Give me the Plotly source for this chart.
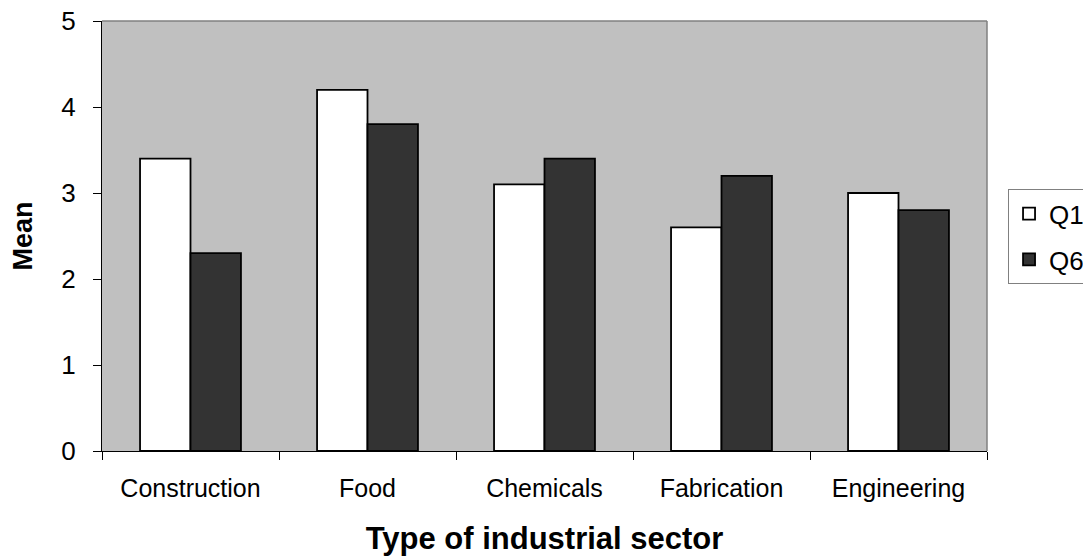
import plotly.graph_objects as go

categories = ["Construction", "Food", "Chemicals", "Fabrication", "Engineering"]
q1_values = [3.4, 4.2, 3.1, 2.6, 3.0]
q6_values = [2.3, 3.8, 3.4, 3.2, 2.8]
series_names = ["Q1", "Q6"]
y_ticks = [0, 1, 2, 3, 4, 5]

FONT = "Liberation Sans, Arial, sans-serif"

fig = go.Figure()
fig.add_trace(go.Bar(x=categories, y=q1_values, name=series_names[0], legendgroup="g1",
                     marker=dict(color="#FFFFFF", line=dict(color="#000000", width=1.8))))
fig.add_trace(go.Bar(x=categories, y=q6_values, name=series_names[1], legendgroup="g2",
                     marker=dict(color="#333333", line=dict(color="#000000", width=1.8))))

fig.update_layout(
    width=1083, height=549,
    margin=dict(l=94, r=104, t=13, b=106),
    paper_bgcolor="#FFFFFF",
    plot_bgcolor="#C0C0C0",
    barmode="group",
    bargap=0.43,
    bargroupgap=0,
    font=dict(family=FONT, size=25, color="#000000"),
    showlegend=True,
    legend=dict(xref="container", yref="container",
                x=0.9234, y=0.67, xanchor="left", yanchor="top",
                bgcolor="#FFFFFF", bordercolor="#808080", borderwidth=1,
                font=dict(family=FONT, size=26, color="#000000"),
                traceorder="grouped", tracegroupgap=9),
    xaxis=dict(
        type="category",
        automargin=False,
        tickson="boundaries",
        ticks="outside", ticklen=8, tickwidth=1, tickcolor="#000000",
        showline=True, linecolor="#000000", linewidth=1.3,
        showgrid=False, zeroline=False,
        tickfont=dict(family=FONT, size=25),
        ticklabelstandoff=15,
        ticklabeloverflow="allow",
        title=dict(text="<b>Type of industrial sector</b>",
                   font=dict(family=FONT, size=31), standoff=26),
    ),
    yaxis=dict(
        range=[0, 5], tickvals=y_ticks,
        automargin=False,
        ticks="outside", ticklen=8, tickwidth=1, tickcolor="#000000",
        showline=True, linecolor="#000000", linewidth=1.3,
        showgrid=False, zeroline=False,
        tickfont=dict(family=FONT, size=26),
        ticklabelstandoff=12,
        ticklabeloverflow="allow",
        title=dict(text="<b>Mean</b>", font=dict(family=FONT, size=27), standoff=29),
    ),
    shapes=[
        dict(type="line", xref="paper", yref="paper", x0=0, x1=1, y0=1, y1=1,
             line=dict(color="#808080", width=1.5)),
        dict(type="line", xref="paper", yref="paper", x0=1, x1=1, y0=0, y1=1,
             line=dict(color="#808080", width=1.5)),
    ],
)

fig.write_html("out.html")
